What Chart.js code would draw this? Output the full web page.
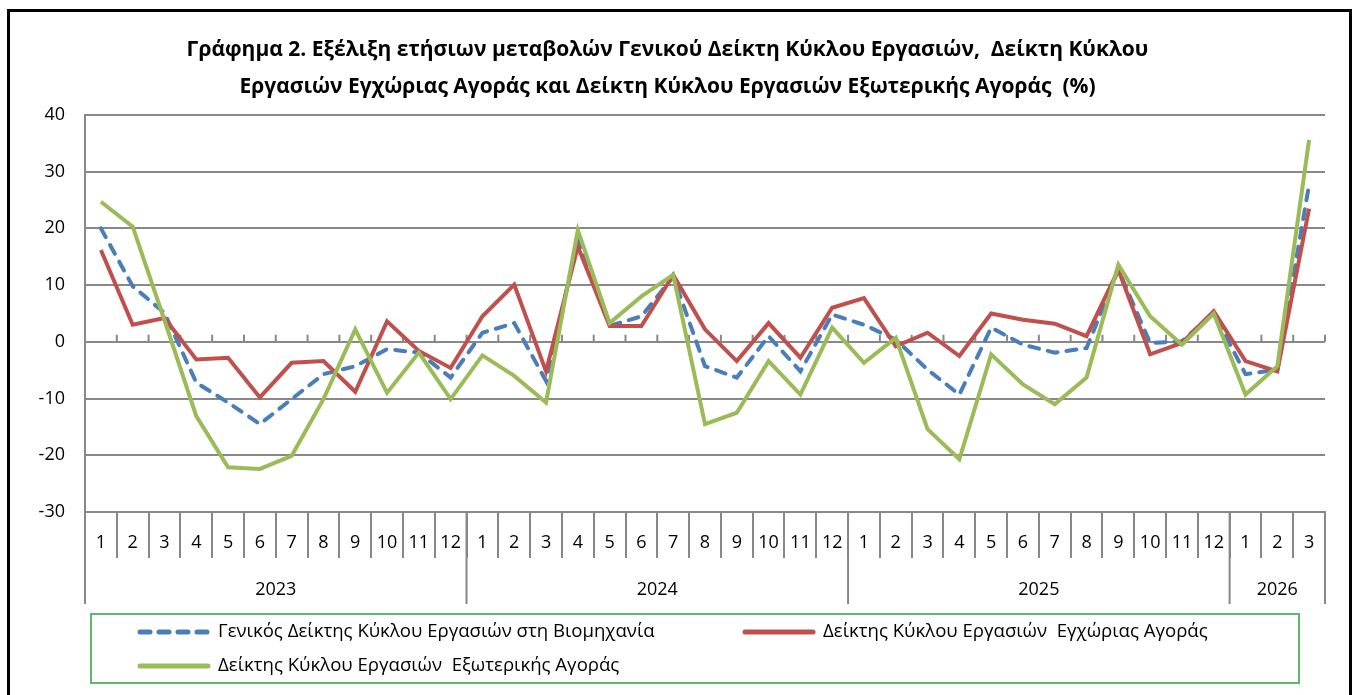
<!DOCTYPE html>
<html>
<head>
<meta charset="utf-8">
<script src="https://cdn.jsdelivr.net/npm/chart.js@4.4.1/dist/chart.umd.min.js"></script>
<style>
    body { margin: 0; background: #fff; }
    #frame { position: absolute; left: 7px; top: 9px; width: 1339px; height: 720px; border: 3px solid #000; }
    #wrap { position: absolute; left: 0; top: 0; width: 1353px; height: 695px; }
</style>
</head>
<body>
<div id="frame"></div>
<div id="wrap"><canvas id="canvas" width="1353" height="695"></canvas></div>
<script>
// months shown on the lower axis, grouped by year
let months = ['1','2','3','4','5','6','7','8','9','10','11','12',
              '1','2','3','4','5','6','7','8','9','10','11','12',
              '1','2','3','4','5','6','7','8','9','10','11','12',
              '1','2','3'];
let years = ['2023', '2024', '2025', '2026'];
let yearLengths = [12, 12, 12, 3];

let titleLines = ['Γράφημα 2. Εξέλιξη ετήσιων μεταβολών Γενικού Δείκτη Κύκλου Εργασιών,  Δείκτη Κύκλου',
                  'Εργασιών Εγχώριας Αγοράς και Δείκτη Κύκλου Εργασιών Εξωτερικής Αγοράς  (%)'];

let seriesNames = ['Γενικός Δείκτης Κύκλου Εργασιών στη Βιομηχανία',
                   'Δείκτης Κύκλου Εργασιών  Εγχώριας Αγοράς',
                   'Δείκτης Κύκλου Εργασιών  Εξωτερικής Αγοράς'];

// yearly change (%)
let generalIdx = [20.0, 9.8, 5.1, -7.2, -10.7, -14.5, -10.1, -5.7, -4.3, -1.3, -1.9, -6.3,
                  1.6, 3.3, -6.9, 18.0, 2.8, 4.5, 11.5, -4.3, -6.3, 1.0, -5.2, 4.8,
                  3.0, 0.4, -4.9, -9.3, 2.5, -0.5, -1.9, -1.1, 12.7, -0.2, 0.1, 5.1,
                  -5.7, -4.9, 27.7];
let domesticIdx = [16.2, 3.0, 4.2, -3.1, -2.8, -9.8, -3.7, -3.4, -8.8, 3.6, -1.6, -4.6,
                   4.5, 10.1, -5.2, 16.8, 2.8, 2.8, 11.8, 2.2, -3.4, 3.3, -2.8, 6.0,
                   7.7, -0.8, 1.6, -2.5, 5.0, 3.9, 3.2, 1.0, 12.7, -2.2, -0.2, 5.4,
                   -3.4, -5.2, 23.5];
let foreignIdx = [24.7, 20.3, 3.8, -13.1, -22.1, -22.4, -20.1, -10.1, 2.2, -9.0, -1.9, -10.1,
                  -2.4, -6.0, -10.7, 19.7, 3.3, 8.0, 11.8, -14.5, -12.5, -3.4, -9.3, 2.5,
                  -3.7, 0.7, -15.4, -20.7, -2.2, -7.5, -11.0, -6.3, 13.6, 4.5, -0.5, 5.0,
                  -9.3, -4.3, 35.6];

const FONT = "'Liberation Sans Narrow', 'Open Sans', sans-serif";
const GRID = '#888888';

// lower axis: year separators, year names and the small ticks on the zero line
const groupAxis = {
    id: 'groupAxis',
    beforeDatasetsDraw(chart) {
        let ctx = chart.ctx;
        let x = chart.scales.x;
        let y0 = chart.scales.y.getPixelForValue(0);
        let half = (x.getPixelForValue(1) - x.getPixelForValue(0)) / 2;
        ctx.save();
        ctx.strokeStyle = GRID;
        ctx.lineWidth = 2;
        ctx.beginPath();
        for (let i = 1; i <= months.length; i++) {
            let px = x.getPixelForValue(i) - half;
            ctx.moveTo(px, y0 - 7);
            ctx.lineTo(px, y0);
        }
        ctx.stroke();
        ctx.restore();
    },
    afterDraw(chart) {
        let ctx = chart.ctx;
        let x = chart.scales.x;
        let half = (x.getPixelForValue(1) - x.getPixelForValue(0)) / 2;
        let top = chart.chartArea.bottom;
        ctx.save();
        ctx.strokeStyle = GRID;
        ctx.lineWidth = 2;
        ctx.fillStyle = '#000';
        ctx.font = '18px ' + FONT;
        ctx.textAlign = 'center';
        ctx.textBaseline = 'middle';
        let start = 0;
        ctx.beginPath();
        ctx.moveTo(x.getPixelForValue(0) - half, top);
        ctx.lineTo(x.getPixelForValue(0) - half, top + 92);
        years.forEach((yr, k) => {
            let end = start + yearLengths[k];
            let xa = x.getPixelForValue(start) - half;
            let xb = x.getPixelForValue(end - 1) + half;
            ctx.moveTo(xb, top);
            ctx.lineTo(xb, top + 92);
            ctx.fillText(yr, (xa + xb) / 2, top + 78);
            start = end;
        });
        ctx.stroke();
        ctx.restore();
    }
};

// legend in a framed box, laid out like the original
const boxLegend = {
    id: 'boxLegend',
    afterDraw(chart) {
        let ctx = chart.ctx;
        let spots = [[140, 632], [745, 632], [140, 666]];
        ctx.save();
        ctx.strokeStyle = '#5fb86a';
        ctx.lineWidth = 2;
        ctx.strokeRect(91, 614, 1208, 69);
        ctx.font = '18.6px ' + FONT;
        ctx.textBaseline = 'middle';
        ctx.textAlign = 'left';
        chart.data.datasets.forEach((ds, i) => {
            let [lx, ly] = spots[i];
            ctx.beginPath();
            ctx.strokeStyle = ds.borderColor;
            ctx.lineWidth = 5;
            ctx.lineCap = 'round';
            ctx.setLineDash(ds.borderDash || []);
            ctx.moveTo(lx, ly);
            ctx.lineTo(lx + 68, ly);
            ctx.stroke();
            ctx.setLineDash([]);
            ctx.fillStyle = '#000';
            ctx.fillText(ds.label, lx + 78, ly);
        });
        ctx.restore();
    }
};

var ctx = document.getElementById('canvas').getContext('2d');
let myChart = new Chart(ctx, {
    type: 'line',
    data: {
        labels: months,
        datasets: [{
            label: seriesNames[0],
            data: generalIdx,
            borderColor: '#4a7ebb',
            borderWidth: 4,
            borderDash: [10, 9],
            borderCapStyle: 'round',
            pointRadius: 0,
            order: 3
        }, {
            label: seriesNames[1],
            data: domesticIdx,
            borderColor: '#c0504d',
            borderWidth: 4,
            pointRadius: 0,
            order: 2
        }, {
            label: seriesNames[2],
            data: foreignIdx,
            borderColor: '#9bbb59',
            borderWidth: 4,
            pointRadius: 0,
            order: 1
        }]
    },
    options: {
        responsive: false,
        animation: false,
        layout: { padding: { left: 10, right: 28, top: 0, bottom: 91 } },
        plugins: {
            legend: { display: false },
            tooltip: { enabled: false },
            title: {
                display: true,
                text: titleLines,
                color: '#000',
                font: { family: FONT, size: 21, weight: 'bold', lineHeight: 1.76 },
                padding: { top: 31.5, bottom: 9.5 }
            }
        },
        scales: {
            x: {
                offset: true,
                grid: { display: true, offset: true, drawOnChartArea: false, drawTicks: true, tickLength: 46, color: GRID, lineWidth: 2 },
                border: { color: GRID, width: 2 },
                ticks: { color: '#000', font: { family: FONT, size: 18 }, padding: -26, autoSkip: false, maxRotation: 0 },
                afterFit(scale) { scale.height = 92; }
            },
            y: {
                min: -30,
                max: 40,
                ticks: { stepSize: 10, color: '#000', font: { family: FONT, size: 18 }, padding: 20 },
                grid: { color: GRID, lineWidth: 2, drawTicks: false },
                border: { color: GRID, width: 2 },
                afterFit(scale) { scale.width = 75; }
            }
        }
    },
    plugins: [groupAxis, boxLegend]
});
</script>
</body>
</html>
